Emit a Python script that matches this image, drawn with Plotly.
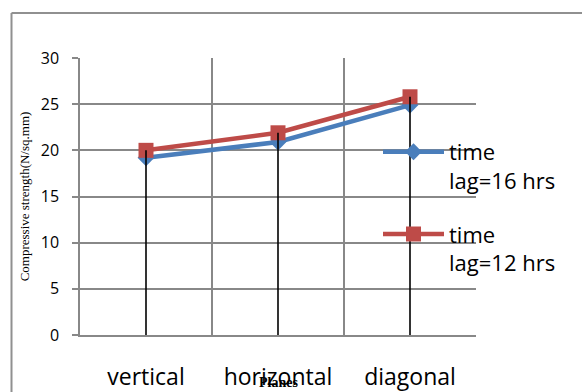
import plotly.graph_objects as go

planes = ["vertical", "horizontal", "diagonal"]
lag16 = [19.2, 20.9, 24.9]
lag12 = [20.0, 21.9, 25.8]
y_ticks = [0, 5, 10, 15, 20, 25, 30]

W, H = 582, 392
L, R, T, B = 80, 106, 58, 57
pw, ph = W - L - R, H - T - B

fig = go.Figure()
fig.add_trace(go.Scatter(
    x=planes, y=lag16, name="time<br>lag=16 hrs", mode="lines+markers", legendgroup="a",
    line=dict(color="#4A7EBB", width=4.5),
    marker=dict(symbol="diamond", size=13, color="#4A7EBB"),
))
fig.add_trace(go.Scatter(
    x=planes, y=lag12, name="time<br>lag=12 hrs", mode="lines+markers", legendgroup="b",
    line=dict(color="#BE4B48", width=4.5),
    marker=dict(symbol="square", size=15, color="#BE4B48"),
))
# drop lines
dx, dy = [], []
for p, a, b in zip(planes, lag16, lag12):
    dx += [p, p, None]
    dy += [0, max(a, b), None]
fig.add_trace(go.Scatter(x=dx, y=dy, mode="lines", showlegend=False,
                         line=dict(color="black", width=1.6), hoverinfo="skip"))

gray = "#888888"
fig.update_layout(
    width=W, height=H,
    margin=dict(l=L, r=R, t=T, b=B, autoexpand=False),
    paper_bgcolor="white", plot_bgcolor="white",
    showlegend=True,
    legend=dict(x=(378 - L) / pw, y=(335 - 131) / ph,
                xanchor="left", yanchor="top",
                bgcolor="rgba(0,0,0,0)", font=dict(family="Open Sans", size=22, color="black"),
                valign="top", itemwidth=61, tracegroupgap=22),
    font=dict(family="Open Sans", color="black"),
)
fig.update_xaxes(
    type="category", range=[-0.5, 2.5], tickson="boundaries", automargin=False,
    showgrid=True, gridcolor=gray, gridwidth=1.5,
    showline=True, linecolor=gray, linewidth=1.5,
    ticks="", tickfont=dict(family="Open Sans", size=23, color="black"),
    ticklabelstandoff=21,
)
fig.update_yaxes(
    range=[0, 30], tickvals=y_ticks, ticktext=[str(v) for v in y_ticks], automargin=False,
    showgrid=True, gridcolor=gray, gridwidth=1.5, zeroline=False,
    showline=True, linecolor=gray, linewidth=1.5,
    ticks="outside", ticklen=6, tickcolor=gray, tickwidth=1.5,
    tickfont=dict(family="Open Sans", size=16, color="black"),
    ticklabelstandoff=10,
    title=dict(text="Compressive strength(N/sq.mm)", font=dict(family="Liberation Serif", size=13, color="black"), standoff=8),
)
fig.add_annotation(text="<b>Planes</b>", xref="paper", yref="paper",
                   x=(278 - L) / pw, y=(335 - 392) / ph, xanchor="center", yanchor="bottom",
                   showarrow=False, font=dict(family="Liberation Serif", size=14, color="black"))
# outer chart frame
fx0 = (11.5 - L) / pw
fy1 = (335 - 13) / ph
fig.add_shape(type="line", xref="paper", yref="paper", x0=fx0, x1=(W + 5 - L) / pw, y0=fy1, y1=fy1,
              line=dict(color="#909090", width=2))
fig.add_shape(type="line", xref="paper", yref="paper", x0=fx0, x1=fx0, y0=fy1, y1=(335 - H - 5) / ph,
              line=dict(color="#909090", width=2))

fig.write_html("out.html", config={"displayModeBar": False},
               post_script="document.body.style.margin='0';document.body.style.overflow='hidden';")
